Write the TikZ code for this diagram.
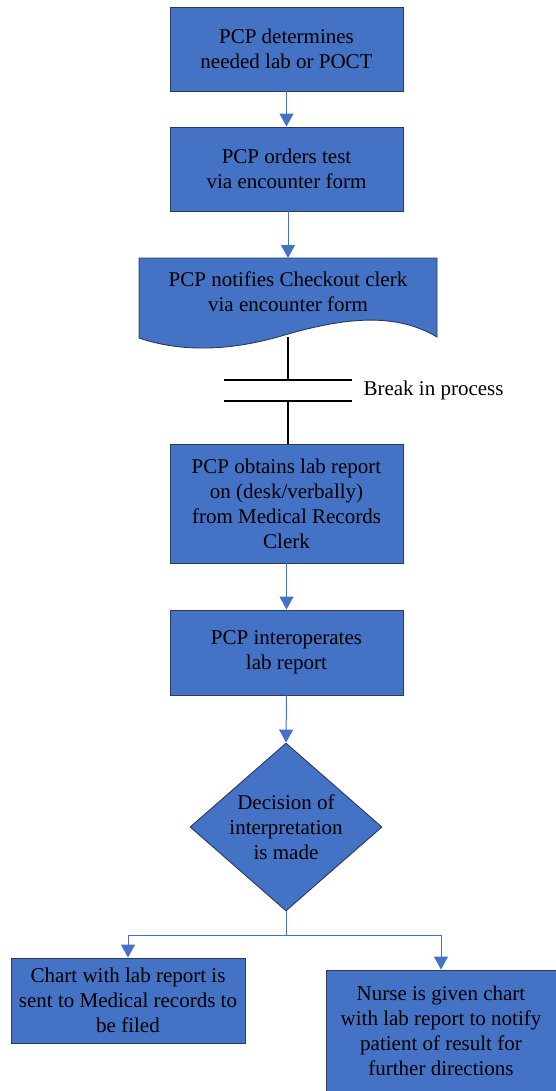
\documentclass[tikz,border=0pt]{standalone}
\usepackage{fontspec}
\setmainfont{Liberation Serif}
\usetikzlibrary{arrows.meta,shapes.geometric,calc}
\definecolor{boxblue}{HTML}{4472C4}
\definecolor{boxedge}{HTML}{2B3B55}
\tikzset{
  x=1pt, y=-1pt,
  txt/.style={font=\fontsize{21}{25}\selectfont, align=center, text=black},
  procbox/.style={txt, draw=boxedge, line width=0.9pt, fill=boxblue, inner sep=0pt},
  flow/.style={draw=boxblue, line width=1pt, -{Triangle[width=14pt,length=13pt]}},
  plainline/.style={draw=black, line width=2pt},
  breakbar/.style={draw=black, line width=2.6pt},
}
\begin{document}
\begin{tikzpicture}
\useasboundingbox (0,0) rectangle (556,1091);

% process boxes
\node[procbox, minimum width=233, minimum height=84] (b1) at (286.5,49)
  {PCP determines\\needed lab or POCT};
\node[procbox, minimum width=233, minimum height=84] (b2) at (286.5,169)
  {PCP orders test\\via encounter form};

% document shape with wavy bottom edge
\draw[draw=boxedge, line width=0.9pt, fill=boxblue]
  (139,258) -- (437,258) -- (437,337)
  .. controls (395,312) and (345,318) .. (288,334)
  .. controls (230,352) and (180,352) .. (139,338) -- cycle;
\node[txt] (doc) at (288,292) {PCP notifies Checkout clerk\\via encounter form};
\coordinate (doctop) at (288,258);
\coordinate (docbot) at (288,337);

\node[procbox, minimum width=233, minimum height=119] (b3) at (286.5,503.5)
  {PCP obtains lab report\\on (desk/verbally)\\from Medical Records\\Clerk};
\node[procbox, minimum width=233, minimum height=85] (b4) at (286.5,652.5)
  {PCP interoperates\\lab report};

% decision
\node[diamond, draw=boxedge, line width=0.9pt, fill=boxblue,
      minimum width=192, minimum height=168, inner sep=0pt] (dec) at (286,827) {};
\node[txt] (dectext) at (dec.center) {Decision of\\interpretation\\is made};

\node[procbox, minimum width=234, minimum height=85] (b5) at (128,1000.5)
  {Chart with lab report is\\sent to Medical records to\\be filed};
\node[procbox, minimum width=230, minimum height=122] (b6) at (441,1031)
  {Nurse is given chart\\with lab report to notify\\patient of result for\\further directions};

% break in process
\coordinate (brA1) at (224,380);
\coordinate (brA2) at (352,380);
\coordinate (brB1) at (224,401);
\coordinate (brB2) at (352,401);
\coordinate (brtop) at (288,380);
\coordinate (brbot) at (288,401);
\draw[plainline] (docbot) -- (brtop);
\draw[plainline] (brbot) -- (b3.north -| brbot);
\draw[breakbar] (brA1) -- (brA2);
\draw[breakbar] (brB1) -- (brB2);
\node[txt, anchor=west] (brk) at (360,390) {Break in process};

% connectors
\draw[flow] (b1.south) -- (b2.north);
\draw[flow] (b2.south) -- ++(0,-24) -| (doctop);
\draw[flow] (b3.south) -- (b4.north);
\draw[flow] (b4.south) -- (dec.north);
\coordinate (split) at ($(dec.south)+(0,24)$);
\draw[draw=boxblue, line width=1pt] (dec.south) -- (split);
\draw[flow] (split) -| (b5.north);
\draw[flow] (split) -| (b6.north);
\end{tikzpicture}
\end{document}
